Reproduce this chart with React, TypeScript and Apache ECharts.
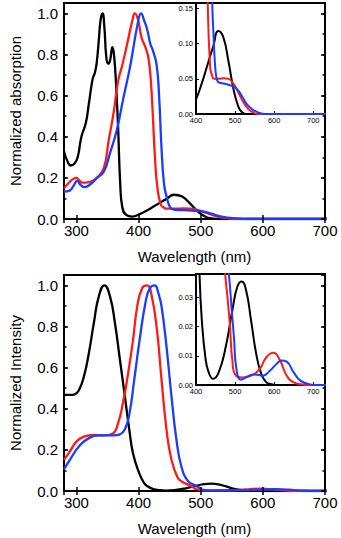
import React, { useEffect, useRef } from "react";
import * as echarts from "echarts";

type Pt = [number, number];

// Absorption spectra (wavelength nm, normalized absorption)
const absBlack: Pt[] = [
  [280, 0.33], [285, 0.285], [291, 0.26], [297, 0.27], [302, 0.3], [308, 0.4], [315, 0.465],
  [320, 0.56], [326, 0.68], [330, 0.715], [333, 0.77], [336, 0.87], [339, 0.97], [342, 1.0],
  [345, 0.93], [348, 0.79], [351, 0.755], [354, 0.77], [358, 0.835], [361, 0.78], [364, 0.64],
  [367, 0.45], [370.5, 0.17], [374, 0.055], [380, 0.02], [390, 0.012], [400, 0.021], [415, 0.044],
  [431, 0.073], [444, 0.096], [457, 0.118], [470, 0.109], [483, 0.075], [496, 0.035], [508, 0.011],
  [517, 0.003], [530, 0], [740, 0],
];
const absRed: Pt[] = [
  [280, 0.149], [289, 0.18], [295, 0.195], [300, 0.2], [305, 0.185], [310, 0.177], [318, 0.178],
  [325, 0.185], [333, 0.2], [344, 0.247], [352, 0.384], [360, 0.52], [367, 0.67], [374, 0.75],
  [383, 0.87], [390, 0.965], [394, 1.0], [399, 0.97], [405, 0.88], [411, 0.835], [416, 0.78],
  [420, 0.66], [423, 0.5], [426, 0.32], [430, 0.16], [436, 0.068], [441, 0.055], [446, 0.05],
  [460, 0.05], [471, 0.051], [483, 0.05], [496, 0.043], [508, 0.031], [521, 0.017], [534, 0.007],
  [547, 0.002], [560, 0], [740, 0],
];
const absBlue: Pt[] = [
  [280, 0.133], [289, 0.138], [295, 0.16], [301, 0.185], [307, 0.165], [313, 0.155], [323, 0.17],
  [333, 0.2], [344, 0.23], [354, 0.32], [365, 0.433], [375, 0.58], [385, 0.72], [391, 0.82],
  [398, 0.94], [404, 1.0], [409, 0.965], [414, 0.92], [419, 0.85], [423, 0.82], [429, 0.75],
  [433, 0.6], [437, 0.34], [441, 0.17], [445, 0.11], [449, 0.068], [453, 0.05], [458, 0.045],
  [474, 0.043], [491, 0.04], [504, 0.036], [517, 0.026], [530, 0.014], [543, 0.007], [560, 0.002],
  [577, 0], [740, 0],
];

// Emission spectra (wavelength nm, normalized intensity)
const emBlack: Pt[] = [
  [280, 0.467], [290, 0.467], [297, 0.47], [304, 0.49], [312, 0.556], [320, 0.67], [328, 0.816],
  [336, 0.946], [345, 1.0], [354, 0.946], [362, 0.816], [370, 0.638], [378, 0.459], [385, 0.3],
  [391, 0.184], [401, 0.087], [409, 0.038], [415, 0.022], [424, 0.0095], [432, 0.0045],
  [444, 0.0021], [458, 0.0043], [476, 0.013], [493, 0.0256], [506, 0.0337], [517, 0.0354],
  [528, 0.0325], [541, 0.022], [554, 0.0107], [567, 0.0038], [580, 0.0009], [593, 0.0003],
  [610, 0], [740, 0],
];
const emRed: Pt[] = [
  [280, 0.151], [289, 0.19], [300, 0.24], [312, 0.264], [328, 0.273], [344, 0.27], [358, 0.278],
  [367, 0.33], [375, 0.43], [382, 0.55], [390.5, 0.72], [398, 0.9], [406, 0.987],
  [414, 1.0], [421, 0.95], [429.5, 0.784], [437, 0.54], [445, 0.297], [453, 0.151], [463, 0.065],
  [470, 0.045], [476, 0.036], [482, 0.028], [487, 0.02], [493, 0.0084], [502, 0.0032],
  [519, 0.0026], [541, 0.0032], [563, 0.0055], [580, 0.0095], [598, 0.011], [615, 0.0084],
  [632, 0.0032], [650, 0.0009], [671, 0.0002], [690, 0], [740, 0],
];
const emBlue: Pt[] = [
  [280, 0.105], [291, 0.159], [304, 0.216], [320, 0.257], [338, 0.27], [360, 0.27], [370, 0.275],
  [378, 0.3], [385, 0.37], [393, 0.54], [401, 0.72], [411, 0.914], [418, 0.985], [426, 1.0],
  [432, 0.96], [437, 0.897], [445, 0.7], [453, 0.459], [461, 0.248], [469, 0.118], [479, 0.05],
  [489, 0.03], [497, 0.0164], [504, 0.0049], [515, 0.0018], [532, 0.0029], [550, 0.0036],
  [571, 0.0032], [589, 0.0049], [606, 0.0072], [619, 0.0084], [632, 0.008], [650, 0.0043],
  [667, 0.0015], [689, 0.0003], [710, 0], [740, 0],
];

const mainXRange = [280, 700];
const mainYRange = [0, 1.05];
const insetXRange = [400, 730];
const insetAbsYRange = [0, 0.158];
const insetEmYRange = [0, 0.038];
const yTitles = ["Normalized absorption", "Normalized Intensity"];
const xTitle = "Wavelength (nm)";

const FONT = "'Liberation Sans', Arial, Helvetica, sans-serif";
const COLORS = ["#000000", "#ff1a1a", "#1a3cff"];

function buildOption() {
  const grids = [
    { left: 56, top: 3, width: 269, height: 216, show: true, borderColor: "#000", borderWidth: 2, backgroundColor: "transparent", z: 0 },
    { left: 196, top: 3, width: 129, height: 111, show: true, borderColor: "#000", borderWidth: 2, backgroundColor: "#fff", z: 5 },
    { left: 56, top: 275, width: 269, height: 216, show: true, borderColor: "#000", borderWidth: 2, backgroundColor: "transparent", z: 0 },
    { left: 196, top: 274, width: 129, height: 111, show: true, borderColor: "#000", borderWidth: 2, backgroundColor: "#fff", z: 5 },
  ];
  const xAxis: any[] = [];
  const yAxis: any[] = [];
  const series: any[] = [];
  const tickStyle = { color: "#000", width: 1.5 };
  const labelBase = { color: "#000", fontFamily: FONT };

  const addMain = (g: number, title: string, data: Pt[][]) => {
    const xi = xAxis.length;
    xAxis.push({
      gridIndex: g, type: "value", min: mainXRange[0], max: mainXRange[1], position: "bottom", z: 8,
      axisLine: { show: false }, splitLine: { show: false },
      axisTick: { inside: true, length: 4, lineStyle: tickStyle },
      axisLabel: { ...labelBase, fontSize: 15, margin: 4, formatter: (v: number) => (v % 100 === 0 ? String(v) : "") },
      name: xTitle, nameLocation: "middle", nameGap: 30,
      nameTextStyle: { ...labelBase, fontSize: 15 },
    });
    xAxis.push({
      gridIndex: g, type: "value", min: mainXRange[0], max: mainXRange[1], position: "top", z: 8,
      axisLine: { show: false }, splitLine: { show: false },
      axisTick: { inside: true, length: 4, lineStyle: tickStyle },
      axisLabel: { show: false },
    });
    const yi = yAxis.length;
    const yBase = { gridIndex: g, type: "value", min: mainYRange[0], max: mainYRange[1], z: 8, axisLine: { show: false }, splitLine: { show: false } };
    yAxis.push({
      ...yBase, position: "left", interval: 0.2,
      axisTick: { inside: true, length: 4, lineStyle: tickStyle },
      axisLabel: { ...labelBase, fontSize: 15, margin: 6, formatter: (v: number) => (v <= 1.0001 && Math.abs(v * 5 - Math.round(v * 5)) < 1e-6 ? v.toFixed(1) : "") },
      name: title, nameLocation: "middle", nameRotate: 90, nameGap: 41,
      nameTextStyle: { ...labelBase, fontSize: 15 },
    });
    yAxis.push({ ...yBase, position: "left", interval: 0.1, axisTick: { inside: true, length: 2.5, lineStyle: tickStyle }, axisLabel: { show: false } });
    yAxis.push({ ...yBase, position: "right", interval: 0.2, axisTick: { inside: true, length: 4, lineStyle: tickStyle }, axisLabel: { show: false } });
    yAxis.push({ ...yBase, position: "right", interval: 0.1, axisTick: { inside: true, length: 2.5, lineStyle: tickStyle }, axisLabel: { show: false } });
    data.forEach((d, k) => {
      series.push({
        type: "line", xAxisIndex: xi, yAxisIndex: yi, data: d, showSymbol: false, smooth: 0.5,
        clip: true, z: 2,
        lineStyle: { color: COLORS[k], width: 2.3 }, itemStyle: { color: COLORS[k] },
      });
    });
  };

  const addInset = (g: number, yRange: number[], yInt: number, data: Pt[][]) => {
    const xi = xAxis.length;
    xAxis.push({
      gridIndex: g, type: "value", min: insetXRange[0], max: insetXRange[1], interval: 100, position: "bottom", z: 6,
      axisLine: { show: false }, splitLine: { show: false },
      axisTick: { inside: true, length: 3, lineStyle: { color: "#000", width: 1 } },
      axisLabel: { ...labelBase, fontSize: 7.5, margin: 2, formatter: (v: number) => (v % 100 === 0 && v <= 700 ? String(v) : "") },
    });
    const yi = yAxis.length;
    yAxis.push({
      gridIndex: g, type: "value", min: yRange[0], max: yRange[1], interval: yInt, position: "left", z: 6,
      axisLine: { show: false }, splitLine: { show: false },
      axisTick: { inside: true, length: 3, lineStyle: { color: "#000", width: 1 } },
      axisLabel: { ...labelBase, fontSize: 7.5, margin: 3, formatter: (v: number) => (Math.abs(v / yInt - Math.round(v / yInt)) < 1e-6 ? v.toFixed(2) : "") },
    });
    data.forEach((d, k) => {
      series.push({
        type: "line", xAxisIndex: xi, yAxisIndex: yi, data: d, showSymbol: false, smooth: 0.5,
        clip: true, z: 7,
        lineStyle: { color: COLORS[k], width: 2 }, itemStyle: { color: COLORS[k] },
      });
    });
  };

  addMain(0, yTitles[0], [absBlack, absRed, absBlue]);
  addInset(1, insetAbsYRange, 0.05, [absBlack, absRed, absBlue]);
  addMain(2, yTitles[1], [emBlack, emRed, emBlue]);
  addInset(3, insetEmYRange, 0.01, [emBlack, emRed, emBlue]);

  return {
    animation: false,
    backgroundColor: "#ffffff",
    textStyle: { fontFamily: FONT },
    grid: grids,
    xAxis,
    yAxis,
    series,
  };
}

export default function App() {
  const ref = useRef<HTMLDivElement>(null);
  useEffect(() => {
    if (!ref.current) return;
    const chart = echarts.init(ref.current, undefined, { renderer: "svg" });
    chart.setOption(buildOption() as any);
    return () => chart.dispose();
  }, []);
  return (
    <div
      ref={ref}
      style={{ position: "fixed", left: 0, top: 0, width: 341, height: 538, background: "#fff" }}
    />
  );
}
